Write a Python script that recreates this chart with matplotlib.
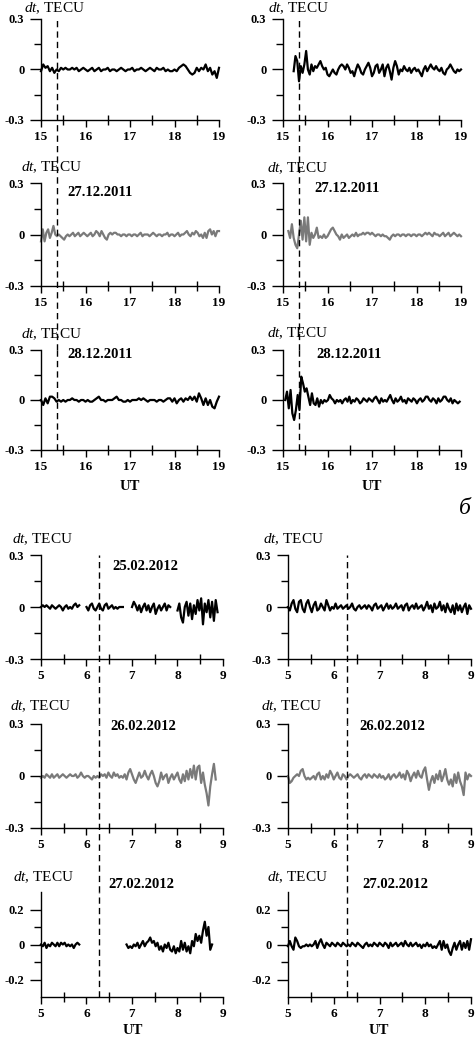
import numpy as np
import matplotlib
matplotlib.use("Agg")
import matplotlib.pyplot as plt

plt.rcParams["font.family"] = "Liberation Serif"
plt.rcParams["mathtext.fontset"] = "custom"
plt.rcParams["mathtext.rm"] = "Liberation Serif"
plt.rcParams["mathtext.it"] = "Liberation Serif:italic"

W, H = 475, 1038  # figure size in pixels

# ---- data: dt in 0.01 TECU, sampled from start with a fixed step (hours UT) ----
# upper block (a): 26.12 / 27.12 / 28.12.2011, 15-19 UT
a1_start, a1_step = 15.0, 0.05
a1_dt = [-1, 3, 1, 2, -1, 1, -2, 0, -1, 1, 0, 1, 0, 0, 1, 0, 1, -1, 0, 1,
         0, -1, 0, 1, -1, 0, 1, -1, 0, 0, 1, -1, 0, 0, -1, 0, 1, 0, -1, 0,
         0, 1, -1, 0, 0, 1, 0, -1, 0, 1, 0, -1, 1, 0, 0, 1, -1, 0, -1, -1,
         0, -1, 1, 2, 3, 2, 0, -2, -3, -2, 1, -1, 1, 0, 3, -1, 1, -3, -1, -5, 1]

b1_start, b1_step = 15.24, 0.04
b1_dt = [-1, 8, 5, -7, 2, -2, 3, 11, 0, -3, 3, -1, 2, 1, 3, 5, 2, 0, 1, -3,
         -4, -2, 0, -2, -3, 0, 2, 3, 2, 0, 3, 1, -2, -1, -4, 0, 3, 1, -2, -3,
         0, 2, 4, 1, -4, -2, 2, 3, -2, 0, 3, -4, 1, 3, -1, -6, 1, 5, 2, -3,
         0, -1, 2, 0, -1, 1, -2, 0, 1, -1, 0, -2, -4, 0, 2, -1, 1, 3, 1, 0,
         2, 0, -1, 1, -2, -3, 0, 1, 3, 1, -1, -2, 0, -1, 0]

a2_start, a2_step = 15.0, 0.04
a2_dt = [-4, 3, -4, 1, 3, -2, 1, 5, 0, -1, 0, -1, -2, -3, -1, 0, -1, 0, 1, -1,
         0, 1, -1, 0, 1, 0, -1, 0, 1, -1, 0, 2, 1, -1, 2, 0, -2, -3, 0, 1,
         0, 1, 1, 0, 0, -1, 0, 0, -1, 0, 0, -1, 0, 0, -1, 0, 1, -1, 0, 0,
         0, -1, 0, 1, 0, -1, 0, 0, -1, 0, 0, 1, -1, 0, 0, -1, 0, 1, -1, 0,
         0, 1, 2, 0, -1, 1, 0, 2, 1, -1, 0, -2, 1, -2, 2, 3, 0, 2, -1, 2, 2]

b2_start, b2_step = 15.12, 0.04
b2_dt = [2, -2, 6, -2, -6, -8, 0, 8, -3, 10, -4, 10, -6, 1, -2, 0, 4, -2, -1, -2,
         0, -2, -1, 1, 3, 4, 2, 0, -1, -3, 0, -2, -1, 0, -2, -1, 0, -1, 1, -1,
         0, 0, 1, 0, 1, 1, 0, 1, 0, -1, 0, 0, -1, 0, -1, -1, -2, -3, -1, 0,
         -1, 0, 0, -1, 0, 0, -1, 0, 0, -1, 0, 0, -1, 0, 0, -1, 0, 1, 0, 1,
         0, -1, 1, 0, 0, -1, 0, 1, -1, 0, 1, -1, 0, 1, 0, -1, 0, -1]

a3_start, a3_step = 15.0, 0.05
a3_dt = [0, -3, 1, -2, 2, 2, 1, -1, 0, -1, 0, -1, 0, 0, 1, 0, 0, -1, 0, 0,
         -1, 0, -1, -1, 0, 1, 2, 0, 0, -1, 0, 0, 0, 1, 2, 0, 0, -1, -1, 0,
         -1, 0, 0, 0, 1, 0, 1, 0, -1, 0, 0, 0, -1, 0, 0, -1, 0, 1, 1, -1,
         1, -2, 0, 1, -1, 1, 0, 2, 0, 2, -1, 4, 1, -3, 1, -3, 0, -4, -5, -1, 2]

b3_start, b3_step = 15.05, 0.04
b3_dt = [0, 5, -5, 6, -8, -12, -6, 3, -6, 14, 10, 5, 7, 2, -3, 4, -2, -3, 1, -4,
         0, -2, 0, -1, 0, 3, 1, 0, -2, 0, -1, 0, -2, 0, 1, -1, 2, -2, 0, -1,
         1, 0, -2, -1, 1, 0, -1, 1, 0, -1, 1, 2, 0, -2, 1, -1, 0, -1, 1, 3,
         0, -2, 1, -1, 0, 2, -1, 0, -2, 1, 0, -1, 1, 0, -2, 0, 1, -1, 0, 2,
         2, 0, -1, 1, 0, -2, 1, -1, 0, 2, 2, 0, -1, 1, -2, 0, -1, -2, -1]

# lower block (б): 25.02 / 26.02 / 27.02.2012, 5-9 UT
c1_segments = [
    (5.00, [0, 1, 0, 1, 0, -1, 1, 0, -1, 0, 1, 0, -2, 0, 1, -1, 0, -1, 1, 2, 0, 1]),
    (6.00, [0, -2, 1, 2, -1, -2, 0, 2, -1, -2, 1, 2, -1, 0, 1, -1, 0, -1, 0, 0, 0]),
    (7.00, [0, 3, 1, -2, 1, -3, 0, 2, -2, 1, -3, 0, 2, -4, -1, 1, -2, 0, 2, -2, 1, 0]),
    (8.00, [-2, 2, -6, -9, 0, 3, -5, 2, -7, 1, -4, 4, -2, 5, -10, 2, -3, 4, -6, 3,
            -8, 4, -3]),
]
d1_start = 5.0
d1_dt = [0, -2, 2, 4, -1, -3, 3, 4, -1, -3, 2, 4, 0, -3, 1, 3, -2, -1, 2, 0,
         -2, 4, 1, -2, 0, -1, 2, -1, 0, 1, -1, 0, 1, -1, 0, 2, -1, -2, 0, 1,
         -1, 0, 1, -1, 1, 0, -2, 1, 2, -1, 0, 1, -2, 0, 2, -1, 1, -1, 0, 2,
         -1, 0, 1, -2, 1, 2, -2, 0, 1, -1, 2, -1, 0, 1, -2, 0, 3, -1, 1, -3,
         2, -1, 0, 3, -2, 1, -3, 2, -1, -3, 1, -4, 2, -2, 1, -3, 0, 2, -4, 1, -1]

c2_start = 5.0
c2_dt = [-1, 0, -1, 1, 0, -1, 1, -1, 0, 1, -1, 0, 1, 0, -1, 0, 1, 0, 0, 1,
         -1, 0, 2, 0, -1, 0, 0, -1, -2, 0, -1, 0, -1, 1, 0, 1, -1, 2, 0, -1,
         2, 0, 1, -1, 0, -1, 1, -2, 2, 4, 1, -2, -4, -1, 2, -1, 0, 3, 0, -2,
         1, 3, 0, -4, -6, -3, 2, -2, 0, 1, -4, -1, 1, -2, 0, 2, -2, -4, 1, -3,
         3, -2, 4, -1, 6, -2, 5, 6, -4, 2, -5, -10, -17, -6, 1, 7, -2]

d2_start = 5.0
d2_dt = [0, -4, -3, -1, 0, 1, 0, 3, 4, 0, -2, -1, -2, -1, 0, -2, 1, 2, -2, 0,
         -2, 1, -1, 3, 1, -2, 0, 2, -1, -2, 1, 0, -2, 0, 1, 0, -1, 0, 1, -1,
         -2, 0, 1, -1, 1, 0, -1, 1, 0, -1, 1, -1, 0, -2, -1, 1, -2, 0, 1, -1,
         0, 2, -1, 1, -2, 3, 1, -3, 0, 2, -1, 3, 0, -1, 3, 5, -2, -8, -3, 0,
         -4, 1, -2, 3, -3, 0, 4, -2, -5, -2, -6, 1, -4, 2, -3, -6, -11, 2, -2, 1, 0]

c3_segments = [
    (5.00, [0, -1, 1, -2, 0, -1, 1, 0, -1, 1, -1, 1, 0, 1, -1, 0, -1, 0, -2, 0, 1, 0]),
    (6.88, [0, -2, -1, -2, 0, -1, 1, -2, 0, 2, -1, 1, 2, 4, 1, 2, -1, 1, -3, -1,
            -4, 0, -2, 1, -3, -4, -1, -5, -2, -4, 2, -3, 1, -4, -1, -5, 2, -1, 6, 2,
            5, 1, 8, 13, 5, 10, -3, 0]),
]
d3_start = 5.0
d3_dt = [-1, 2, -1, -3, 4, 2, -1, -2, -1, -1, 0, -1, 0, -1, 0, 2, -2, 1, 3, 0,
         -2, 1, 0, -1, 1, 0, -1, 1, 0, -1, 1, 0, -1, 0, -1, 1, 0, -1, 1, 0,
         -1, -2, 0, 1, -1, 0, -1, 1, 0, -1, 1, 0, -1, 1, 0, -2, 1, -1, 0, 1,
         -1, 0, 1, -1, 2, 0, -1, 1, -1, 0, 1, -1, 0, -2, 0, -1, 1, -1, 0, -2,
         -1, -2, 0, 2, -3, 2, -2, 0, -4, -6, -2, 1, -3, 0, 2, -3, 1, -2, 2, -3, 3]
step_low = 0.04

event_a = 15.37   # dashed line, upper block
event_b = 6.28    # dashed line, lower block

dates_a = ["26.12.2011", "27.12.2011", "28.12.2011"]
dates_b = ["25.02.2012", "26.02.2012", "27.02.2012"]

BLACK, GRAY = "black", "#7a7a7a"


def fx(px):
    return px / W


def fy(py):
    return 1 - py / H


def make_axes(x0, y0, x1, y1):
    return fig.add_axes([fx(x0), fy(y1), (x1 - x0) / W, (y1 - y0) / H])


def style(ax, xlim, ymaj, ylab):
    ax.set_xlim(*xlim)
    ax.set_ylim(-0.3, 0.3)
    for s in ("top", "right"):
        ax.spines[s].set_visible(False)
    for s in ("left", "bottom"):
        ax.spines[s].set_linewidth(1.0)
    ax.set_facecolor("none")
    ax.set_xticks(np.arange(xlim[0], xlim[1] + 1))
    ax.set_xticks(np.arange(xlim[0] + 0.5, xlim[1], 1.0), minor=True)
    ax.set_xticklabels([str(int(v)) for v in np.arange(xlim[0], xlim[1] + 1)],
                       fontweight="bold", fontsize=9.5)
    ax.set_yticks(ymaj)
    ax.set_yticks([ymaj[0] / 2, ymaj[2] / 2], minor=True)
    ax.set_yticklabels(ylab, fontweight="bold", fontsize=9)
    ax.tick_params(axis="y", which="major", direction="out", length=8, width=1, pad=4)
    ax.tick_params(axis="y", which="minor", direction="out", length=5, width=1)
    ax.tick_params(axis="x", which="major", direction="out", length=5, width=1, pad=3)
    ax.tick_params(axis="x", which="minor", direction="inout", length=7, width=1)


def plot_series(ax, start, step, vals, color):
    v = np.array(vals, dtype=float) / 100.0
    t = start + step * np.arange(len(v))
    ax.plot(t, v, color=color, lw=1.6, solid_joinstyle="round", clip_on=False)


fig = plt.figure(figsize=(W / 100, H / 100), dpi=100)

# upper block boxes (px)
rows_a = [(19, 120), (183, 286), (350, 450)]
cols_a = [(41, 219), (283, 461)]
rows_b = [(555, 659), (724, 828), (892, 997)]
cols_b = [(41, 223), (288, 471)]

series_a = [
    [(a1_start, a1_step, a1_dt), (b1_start, b1_step, b1_dt)],
    [(a2_start, a2_step, a2_dt), (b2_start, b2_step, b2_dt)],
    [(a3_start, a3_step, a3_dt), (b3_start, b3_step, b3_dt)],
]
series_b = [
    [c1_segments, [(d1_start, d1_dt)]],
    [[(c2_start, c2_dt)], [(d2_start, d2_dt)]],
    [c3_segments, [(d3_start, d3_dt)]],
]
colors = [BLACK, GRAY, BLACK]

# label positions (px): dt label left/center, date label left/center
dtlab_a = [[(24, 8), (268, 8)], [(21, 167), (267, 168)], [(21, 334), (267, 333)]]
datepos_a = [[None, None], [(67, 192), (314, 188)], [(67, 355), (316, 355)]]
dtlab_b = [[(12, 539), (263, 539)], [(10, 706), (261, 706)], [(13, 877), (267, 877)]]
datepos_b = [[(112, 567), None], [(110, 727), (359, 726)], [(108, 885), (362, 885)]]

for r, (y0, y1) in enumerate(rows_a):
    for c, (x0, x1) in enumerate(cols_a):
        ax = make_axes(x0, y0, x1, y1)
        style(ax, (15, 19), [-0.3, 0, 0.3], ["-0.3", "0", "0.3"])
        st, sp, vals = series_a[r][c]
        plot_series(ax, st, sp, vals, colors[r])
        ymin = -(rows_a[r + 1][0] - y1) / (y1 - y0) if r < 2 else 0
        ax.axvline(event_a, ymin=ymin, ymax=1, color="black", lw=1.0,
                   ls=(0, (4.5, 3)), clip_on=False)
        lx, ly = dtlab_a[r][c]
        fig.text(fx(lx), fy(ly), r"$\mathit{dt}$, TECU", fontsize=11,
                 ha="left", va="center")
        if datepos_a[r][c] is not None:
            dx, dy = datepos_a[r][c]
            fig.text(fx(dx), fy(dy), dates_a[r], fontsize=10.5, fontweight="bold",
                     ha="left", va="center")

for r, (y0, y1) in enumerate(rows_b):
    for c, (x0, x1) in enumerate(cols_b):
        ax = make_axes(x0, y0, x1, y1)
        if r < 2:
            style(ax, (5, 9), [-0.3, 0, 0.3], ["-0.3", "0", "0.3"])
        else:
            style(ax, (5, 9), [-0.2, 0, 0.2], ["-0.2", "0", "0.2"])
        for st, vals in series_b[r][c]:
            plot_series(ax, st, step_low, vals, colors[r])
        ymin = -(rows_b[r + 1][0] - y1) / (y1 - y0) if r < 2 else 0
        ax.axvline(event_b, ymin=ymin, ymax=1, color="black", lw=1.0,
                   ls=(0, (4.5, 3)), clip_on=False)
        lx, ly = dtlab_b[r][c]
        fig.text(fx(lx), fy(ly), r"$\mathit{dt}$, TECU", fontsize=11,
                 ha="left", va="center")
        if datepos_b[r][c] is not None:
            dx, dy = datepos_b[r][c]
            fig.text(fx(dx), fy(dy), dates_b[r], fontsize=10.5, fontweight="bold",
                     ha="left", va="center")

# axis titles
for cx, cy in [(130, 487), (372, 487), (133, 1031), (379, 1031)]:
    fig.text(fx(cx), fy(cy), "UT", fontsize=10.5, fontweight="bold",
             ha="center", va="center")
fig.text(fx(465), fy(508), "б", fontsize=17, fontstyle="italic",
         ha="center", va="center")

fig.savefig("out.png", dpi=100)
